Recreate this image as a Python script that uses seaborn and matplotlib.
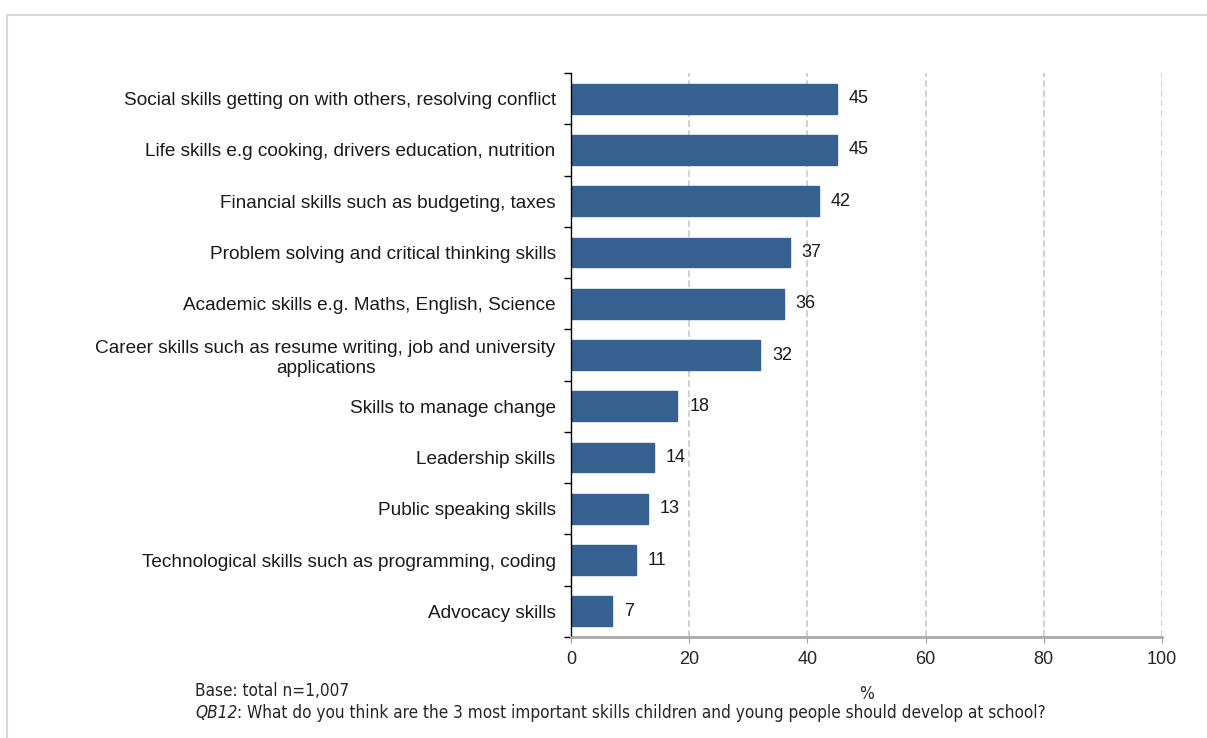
import matplotlib
matplotlib.use("Agg")
import matplotlib.pyplot as plt
import seaborn as sns
import pandas as pd
from matplotlib.lines import Line2D

categories = [
    "Social skills getting on with others, resolving conflict",
    "Life skills e.g cooking, drivers education, nutrition",
    "Financial skills such as budgeting, taxes",
    "Problem solving and critical thinking skills",
    "Academic skills e.g. Maths, English, Science",
    "Career skills such as resume writing, job and university\napplications",
    "Skills to manage change",
    "Leadership skills",
    "Public speaking skills",
    "Technological skills such as programming, coding",
    "Advocacy skills",
]
values = [45, 45, 42, 37, 36, 32, 18, 14, 13, 11, 7]
x_ticks = [0, 20, 40, 60, 80, 100]

sns.set_style("white")
plt.rcParams['font.family'] = ['Liberation Sans', 'DejaVu Sans']

df = pd.DataFrame({"skill": categories, "pct": values})

fig = plt.figure(figsize=(12.07, 7.38), dpi=100)
ax = fig.add_axes([571/1207, 1-637/738, (1162-571)/1207, (637-73)/738])

sns.barplot(data=df, y="skill", x="pct", orient="h", color="#36608F",
            width=0.58, ax=ax, saturation=1, edgecolor="#36608F")

ax.set_xlim(0, 100)
ax.set_ylim(10.5, -0.5)
ax.set_xticks(x_ticks)
ax.set_xticklabels([str(t) for t in x_ticks], fontsize=13)
for t in x_ticks[1:]:
    ax.axvline(t, color="#C8C8C8", linestyle=(0, (4, 2)), linewidth=1.2, zorder=0)

ax.set_yticks([i - 0.5 for i in range(12)], minor=False)
ax.set_yticklabels([])
ax.set_yticks(range(len(categories)), minor=True)
ax.set_yticklabels(categories, minor=True, fontsize=13.7, color="#1a1a1a")
for lab in ax.get_yticklabels(minor=True):
    lab.set_multialignment("center")
ax.tick_params(axis="y", which="minor", length=0, pad=11)
ax.tick_params(axis="y", which="major", length=5, width=1, color="black", direction="out", left=True)
ax.tick_params(axis="x", length=4, color="#A0A0A0", bottom=True, pad=6)

for s in ["top", "right"]:
    ax.spines[s].set_visible(False)
ax.spines["left"].set_color("black")
ax.spines["left"].set_linewidth(1)
ax.spines["bottom"].set_color("#A8A8A8")
ax.spines["bottom"].set_linewidth(2)

ax.set_ylabel("")
ax.set_xlabel("%", fontsize=12.5, family="DejaVu Sans", fontstretch="condensed", labelpad=12)

for i, v in enumerate(values):
    ax.text(v + 2, i, str(v), va="center", ha="left", fontsize=13, color="#1a1a1a")

fig.text(195/1207, 1-691/738, "Base: total n=1,007", fontsize=12.3, va="center",
         family="DejaVu Sans", fontstretch="condensed")
qb = fig.text(195/1207, 1-713/738, "QB12", fontsize=12.3, va="center", style="italic",
              family="DejaVu Sans", fontstretch="condensed")
fig.canvas.draw()
ax.annotate(": What do you think are the 3 most important skills children and young people should develop at school?",
            xy=(1, 0.5), xycoords=qb, va="center", ha="left", fontsize=12.3,
            family="DejaVu Sans", fontstretch="condensed", annotation_clip=False)

fig.add_artist(Line2D([7/1207, 7/1207], [0, 1-15/738], transform=fig.transFigure,
                      color="#D9D9D9", linewidth=1.5))
fig.add_artist(Line2D([7/1207, 1], [1-15/738, 1-15/738], transform=fig.transFigure,
                      color="#D9D9D9", linewidth=1.5))

fig.savefig("out.png", dpi=100)
